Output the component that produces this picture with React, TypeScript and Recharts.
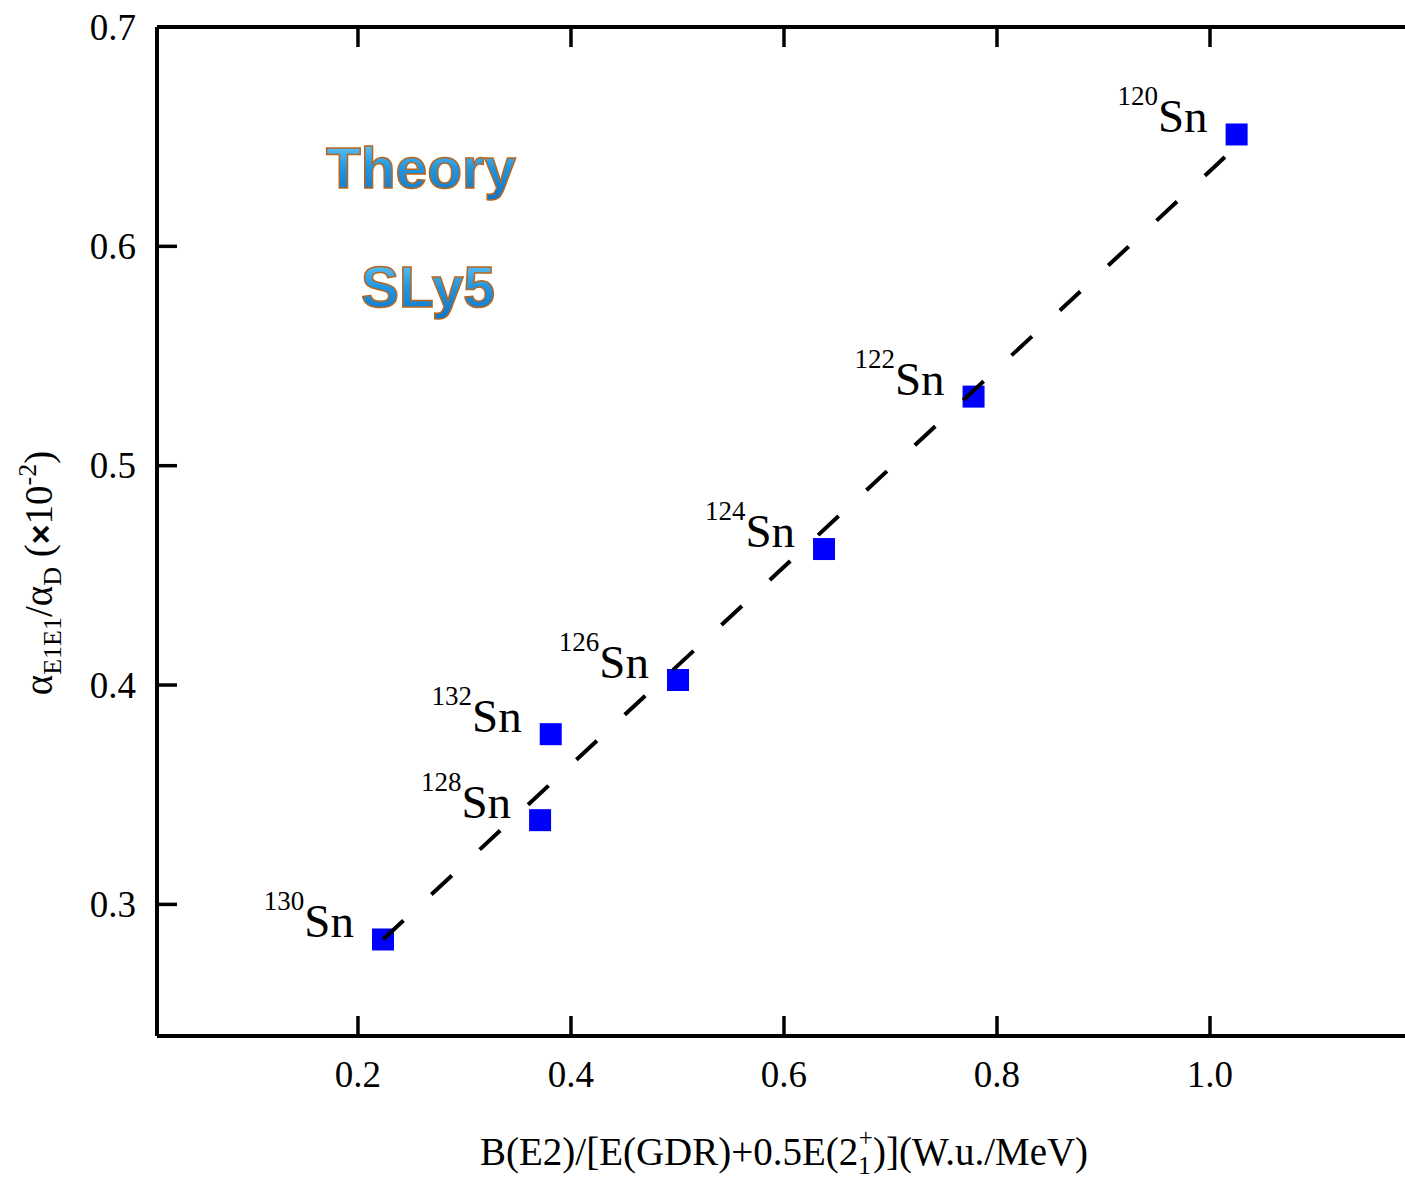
import React from "react";
import { ScatterChart, Scatter, XAxis, YAxis } from "recharts";

// values
const isotopes = ["120", "122", "124", "126", "132", "128", "130"];
const xValues = [1.025, 0.778, 0.6376, 0.5005, 0.381, 0.371, 0.2235];
const yValues = [0.651, 0.5315, 0.462, 0.4023, 0.3776, 0.3384, 0.284];

// dashed guide line (end points)
const fitX = [0.2235, 1.014];
const fitY = [0.284, 0.6407];

const xTicks = [0.2, 0.4, 0.6, 0.8, 1.0];
const yTicks = [0.3, 0.4, 0.5, 0.6, 0.7];
const xDomain = [0.0113, 1.2];
const yDomain = [0.24, 0.7];

const points = isotopes.map((iso, i) => ({ iso, x: xValues[i], y: yValues[i] }));
const fitLine = fitX.map((x, i) => ({ x, y: fitY[i] }));

const SERIF = "'Liberation Serif', 'Times New Roman', serif";
const AXIS = { stroke: "#000", strokeWidth: 4 };

const LeftTick = ({ x, y, payload }: any) => (
  <g>
    <line x1={x} x2={x + 20} y1={y} y2={y} stroke="#000" strokeWidth={3.5} />
    <text x={x - 21} y={y} textAnchor="end" dominantBaseline="central" fontFamily={SERIF} fontSize={37} fill="#000">
      {payload.value.toFixed(1)}
    </text>
  </g>
);

const RightTick = ({ x, y }: any) => (
  <line x1={x} x2={x - 20} y1={y} y2={y} stroke="#000" strokeWidth={3.5} />
);

const BottomTick = ({ x, y, payload }: any) => (
  <g>
    <line x1={x} x2={x} y1={y} y2={y - 20} stroke="#000" strokeWidth={3.5} />
    <text x={x} y={y + 51} textAnchor="middle" fontFamily={SERIF} fontSize={37} fill="#000">
      {payload.value.toFixed(1)}
    </text>
  </g>
);

const TopTick = ({ x, y }: any) => (
  <g>
    <line x1={x} x2={x} y1={y} y2={y + 20} stroke="#000" strokeWidth={3.5} />
  </g>
);

const Marker = (props: any) => {
  const { cx, cy, payload } = props;
  return (
    <g>
      <rect x={cx - 11} y={cy - 11} width={22} height={22} fill="#0000ff" />
      <text x={cx - 29} y={cy - 2} textAnchor="end" fontFamily={SERIF} fill="#000">
        <tspan fontSize={27} dy={-27}>{payload.iso}</tspan>
        <tspan fontSize={47} dy={27}>Sn</tspan>
      </text>
    </g>
  );
};

export default function App() {
  return (
    <div style={{ position: "absolute", left: 0, top: 0, width: 1405, height: 1178, overflow: "hidden", background: "#fff" }}>
      <ScatterChart width={1433} height={1178} margin={{ top: 7, right: 10, bottom: 82, left: 57 }}>
        <XAxis
          type="number"
          dataKey="x"
          domain={xDomain}
          ticks={xTicks}
          interval={0}
          allowDataOverflow
          height={60}
          axisLine={AXIS}
          tickLine={false}
          tickSize={0}
          tickMargin={0}
          tick={<BottomTick />}
        />
        <XAxis
          xAxisId="top"
          orientation="top"
          type="number"
          dataKey="x"
          domain={xDomain}
          ticks={xTicks}
          interval={0}
          allowDataOverflow
          height={20}
          axisLine={AXIS}
          tickLine={false}
          tickSize={0}
          tickMargin={0}
          tick={<TopTick />}
        />
        <YAxis
          type="number"
          dataKey="y"
          domain={yDomain}
          ticks={yTicks}
          interval={0}
          allowDataOverflow
          width={100}
          axisLine={AXIS}
          tickLine={false}
          tickSize={0}
          tickMargin={0}
          tick={<LeftTick />}
        />
        <YAxis
          yAxisId="right"
          orientation="right"
          type="number"
          dataKey="y"
          domain={yDomain}
          ticks={yTicks}
          interval={0}
          allowDataOverflow
          width={0}
          axisLine={AXIS}
          tickLine={false}
          tickSize={0}
          tickMargin={0}
          tick={<RightTick />}
        />
        {/* invisible series so the mirror axes get a scale */}
        <Scatter xAxisId="top" yAxisId="right" data={fitLine} shape={() => <g />} isAnimationActive={false} />
        <Scatter data={points} shape={<Marker />} isAnimationActive={false} />
        <Scatter
          data={fitLine}
          line={{ stroke: "#000", strokeWidth: 4, strokeDasharray: "28 38" }}
          shape={() => <g />}
          isAnimationActive={false}
        />
      </ScatterChart>
      <svg width={1405} height={1178} style={{ position: "absolute", left: 0, top: 0, pointerEvents: "none" }}>
        <defs>
          <linearGradient id="tg" x1="0" y1="0" x2="0" y2="1">
            <stop offset="0" stopColor="#6fd0fa" />
            <stop offset="0.5" stopColor="#2196e0" />
            <stop offset="1" stopColor="#0f74c4" />
          </linearGradient>
        </defs>
        <g fontFamily="'Liberation Sans', Arial, sans-serif" fontWeight="bold" fontSize={57} fill="url(#tg)" stroke="#b8661e" strokeWidth={1.5} textAnchor="middle">
          <text x={421} y={188}>Theory</text>
          <text x={428} y={307}>SLy5</text>
        </g>
        <text x={480} y={1165} fontFamily={SERIF} fontSize={39} fill="#000">
          B(E2)/[E(GDR)+0.5E(2
          <tspan fontSize={25} dy={9}>1</tspan>
          <tspan fontSize={25} dx={-12} dy={-28}>+</tspan>
          <tspan dy={19}>)](W.u./MeV)</tspan>
        </text>
        <text transform="translate(52,573) rotate(-90)" textAnchor="middle" fontFamily={SERIF} fontSize={39} fill="#000">
          α
          <tspan fontSize={26} dy={9}>E1E1</tspan>
          <tspan dy={-9}>/α</tspan>
          <tspan fontSize={26} dy={9}>D</tspan>
          <tspan dy={-9}> (</tspan>
          <tspan fontFamily="'Liberation Sans', Arial, sans-serif" fontWeight="bold" fontSize={34}>×</tspan>
          <tspan>10</tspan>
          <tspan fontSize={26} dy={-16}>-2</tspan>
          <tspan dy={16}>)</tspan>
        </text>
      </svg>
    </div>
  );
}
